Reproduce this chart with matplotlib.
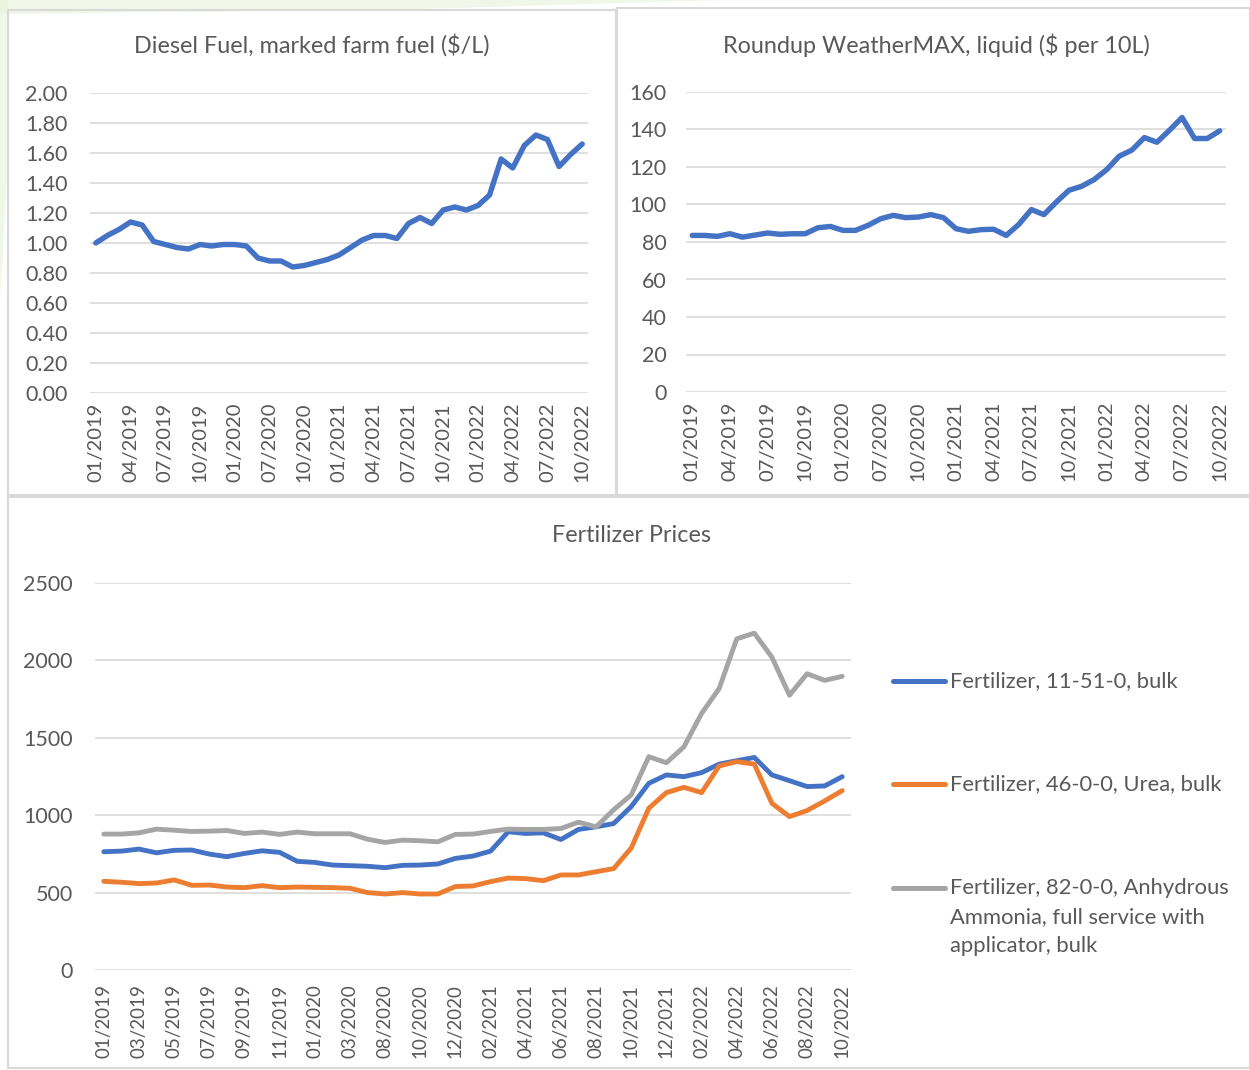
"""
Farm input prices 2019-2022: diesel, Roundup and fertilizer panels.
"""
import numpy as np
import matplotlib.pyplot as plt
from matplotlib.lines import Line2D
from matplotlib.patches import Rectangle, Polygon
from matplotlib.ticker import FuncFormatter

W, H = 1250, 1070
FONT = "Lato"
TXT = "#595959"
GRID = "#d9d9d9"
BLUE, ORANGE, GRAY = "#4472C4", "#ED7D31", "#A5A5A5"

# months present in the source (Apr-Jun 2020 missing)
YEAR_MONTHS = [(2019, range(1, 13)), (2020, [1, 2, 3, 7, 8, 9, 10, 11, 12]),
               (2021, range(1, 13)), (2022, range(1, 11))]
MONTHS = [f"{m:02d}/{y}" for y, ms in YEAR_MONTHS for m in ms]

DIESEL = [1.00, 1.05, 1.09, 1.14, 1.12, 1.01, 0.99, 0.97, 0.96, 0.99,
          0.98, 0.99, 0.99, 0.98, 0.90, 0.88, 0.88, 0.84, 0.85, 0.87,
          0.89, 0.92, 0.97, 1.02, 1.05, 1.05, 1.03, 1.13, 1.17, 1.13,
          1.22, 1.24, 1.22, 1.25, 1.32, 1.56, 1.50, 1.65, 1.72, 1.69,
          1.51, 1.59, 1.66]

ROUNDUP = [83.5, 83.5, 83.0, 84.4, 82.6, 83.7, 84.8, 84.1, 84.4, 84.4,
           87.6, 88.3, 86.2, 86.2, 88.9, 92.4, 94.2, 93.0, 93.3, 94.6,
           93.0, 87.1, 85.7, 86.6, 86.8, 83.5, 89.4, 97.3, 94.6, 101.4,
           107.6, 109.7, 113.3, 118.6, 125.8, 129.0, 135.7, 133.2, 139.6, 146.4,
           135.2, 135.2, 139.3]

FERT_11_51_0 = [764, 768, 781, 757, 773, 775, 749, 732, 753, 770,
                760, 702, 695, 678, 674, 670, 661, 676, 678, 685,
                721, 736, 768, 893, 882, 886, 843, 908, 925, 946,
                1056, 1206, 1260, 1249, 1275, 1330, 1352, 1373, 1260, 1223,
                1185, 1189, 1249]
FERT_46_0_0 = [573, 567, 558, 562, 582, 547, 549, 536, 532, 545,
               532, 536, 534, 532, 528, 500, 491, 500, 491, 491,
               539, 543, 571, 594, 590, 577, 614, 614, 635, 655,
               788, 1045, 1146, 1180, 1146, 1318, 1346, 1330, 1077, 991,
               1030, 1092, 1159]
FERT_82_0_0 = [878, 878, 886, 910, 903, 895, 897, 901, 882, 891,
               876, 891, 880, 880, 880, 845, 824, 839, 835, 828,
               876, 878, 895, 910, 908, 908, 914, 955, 925, 1035,
               1131, 1378, 1339, 1442, 1657, 1818, 2139, 2176, 2021, 1775,
               1914, 1871, 1897]
FERT_LABELS = ["Fertilizer, 11-51-0, bulk",
               "Fertilizer, 46-0-0, Urea, bulk",
               "Fertilizer, 82-0-0, Anhydrous\nAmmonia, full service with\napplicator, bulk"]

plt.rcParams["font.family"] = [FONT, "DejaVu Sans"]

fig = plt.figure(figsize=(W / 100, H / 100), dpi=100)


def px_axes(x0, y0, x1, y1):
    return fig.add_axes([x0 / W, 1 - y1 / H, (x1 - x0) / W, (y1 - y0) / H])


def px(xp, yp):
    return (xp / W, 1 - yp / H)


def panel(x0, y0, x1, y1):
    fig.add_artist(Rectangle(px(x0, y1), (x1 - x0) / W, (y1 - y0) / H,
                             transform=fig.transFigure, fill=False,
                             ec=GRID, lw=1.5))


def style(ax, ymax, ystep, fmt, every, fs_y, fs_x, pad_y, pad_x):
    ax.set_xlim(-0.5, len(MONTHS) - 0.5)
    ax.set_ylim(0, ymax)
    ax.set_yticks(np.arange(0, ymax + ystep / 2, ystep))
    ax.yaxis.set_major_formatter(FuncFormatter(lambda v, _: fmt.format(v)))
    idx = list(range(0, len(MONTHS), every))
    ax.set_xticks(idx, [MONTHS[i] for i in idx], rotation=90)
    ax.tick_params(axis="y", length=0, colors=TXT, labelsize=fs_y, pad=pad_y)
    ax.tick_params(axis="x", length=0, colors=TXT, labelsize=fs_x, pad=pad_x)
    ax.grid(axis="y", color=GRID, lw=1.2)
    ax.set_axisbelow(True)
    for s in ax.spines.values():
        s.set_visible(False)


x = np.arange(len(MONTHS))

# faint green page decoration behind the charts
fig.add_artist(Polygon([px(0, 0), px(720, 0), px(420, 9), px(0, 14)],
                       closed=True, transform=fig.transFigure,
                       fc="#e6f2da", ec="none", alpha=0.6, zorder=0))
fig.add_artist(Polygon([px(0, 0), px(8, 0), px(8, 160), px(0, 300)],
                       closed=True, transform=fig.transFigure,
                       fc="#e6f2da", ec="none", alpha=0.6, zorder=0))

# panels
panel(8, 10, 616, 495)
panel(617, 8, 1250, 495)
panel(8, 497, 1250, 1068)

# diesel
ax1 = px_axes(90, 93, 588, 393)
ax1.plot(x, DIESEL, color=BLUE, lw=3.9, solid_capstyle="round", solid_joinstyle="round")
style(ax1, 2.0, 0.2, "{:.2f}", 3, 15.5, 14.5, 16, 7)
fig.text(*px(312, 45), "Diesel Fuel, marked farm fuel ($/L)",
         ha="center", va="center", fontsize=16.8, color=TXT)

# roundup
ax2 = px_axes(686, 92, 1226, 392)
ax2.plot(x, ROUNDUP, color=BLUE, lw=3.9, solid_capstyle="round", solid_joinstyle="round")
style(ax2, 160, 20, "{:.0f}", 3, 15.5, 14.5, 14, 7)
fig.text(*px(936, 45), "Roundup WeatherMAX, liquid ($ per 10L)",
         ha="center", va="center", fontsize=16.8, color=TXT)

# fertilizer
ax3 = px_axes(95, 583, 851, 970)
for vals, col in zip([FERT_11_51_0, FERT_46_0_0, FERT_82_0_0], [BLUE, ORANGE, GRAY]):
    ax3.plot(x, vals, color=col, lw=3.5, solid_capstyle="round", solid_joinstyle="round")
style(ax3, 2500, 500, "{:.0f}", 2, 15.5, 13.5, 16, 10)
fig.text(*px(631, 535), "Fertilizer Prices",
         ha="center", va="center", fontsize=16.8, color=TXT)

# legend, drawn by hand so the swatch sits on the first text line
for lab, col, ly in zip(FERT_LABELS, [BLUE, ORANGE, GRAY], [681, 784, 888]):
    fig.add_artist(Line2D([893 / W, 945 / W], [1 - ly / H] * 2, transform=fig.transFigure,
                          color=col, lw=3.6, solid_capstyle="round"))
    fig.text(*px(950, ly - 10), lab, ha="left", va="top",
             fontsize=15.8, color=TXT, linespacing=1.55)

fig.savefig("out.png", dpi=100)
